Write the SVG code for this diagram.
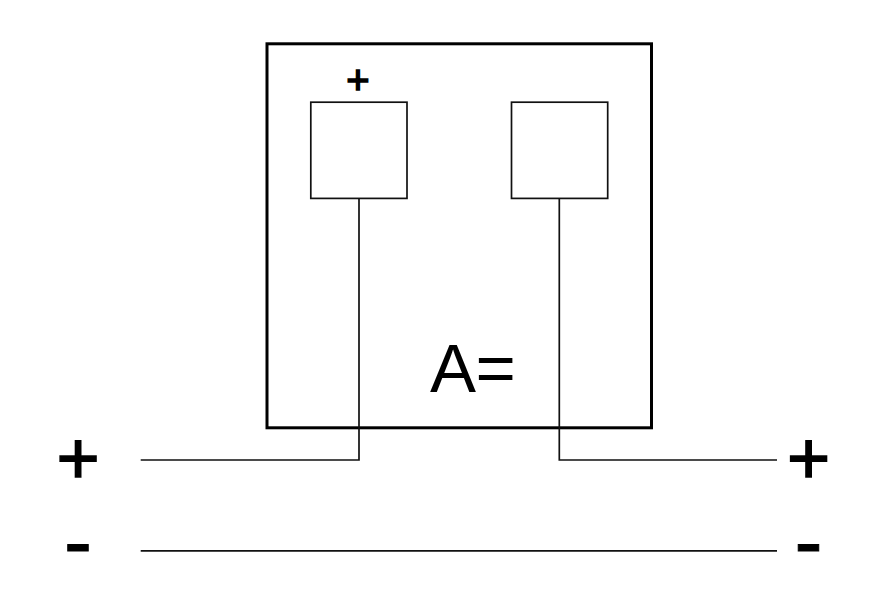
<svg xmlns="http://www.w3.org/2000/svg" width="877" height="600" viewBox="0 0 877 600">
<style>
.s{fill:none;stroke:#111;stroke-width:1.7}
.o{fill:none;stroke:#000;stroke-width:3}
text{font-family:"Liberation Sans",Arial,sans-serif;fill:#000;text-anchor:middle}
.m{stroke:#000}
</style>
<rect width="877" height="600" fill="#fff"/>
<g id="enclosure"><rect class="o" x="267" y="43.800" width="384.500" height="384"/></g>
<g id="box-left"><rect class="s" x="310.800" y="102.200" width="96.200" height="96.200"/></g>
<g id="box-right"><rect class="s" x="511.500" y="102.200" width="96.200" height="96.200"/></g>
<g id="connectors">
<path class="s" d="M359 198.400V460H140.700"/>
<path class="s" d="M559.300 198.400V460H777"/>
<path class="s" d="M140.700 550.800H777"/>
</g>
<g id="labels">
<text class="m" x="358" y="94" font-size="40" stroke-width="1.500">+</text>
<text x="430 475.500" y="392" font-size="69" style="text-anchor:start">A=</text>
<text class="m" x="78" y="484" font-size="74" stroke-width="1.500">+</text>
<text class="m" x="808.500" y="484" font-size="74" stroke-width="1.500">+</text>
<text class="m" x="78" y="570" font-size="84">-</text>
<text class="m" x="808.500" y="570" font-size="84">-</text>
</g>
</svg>
